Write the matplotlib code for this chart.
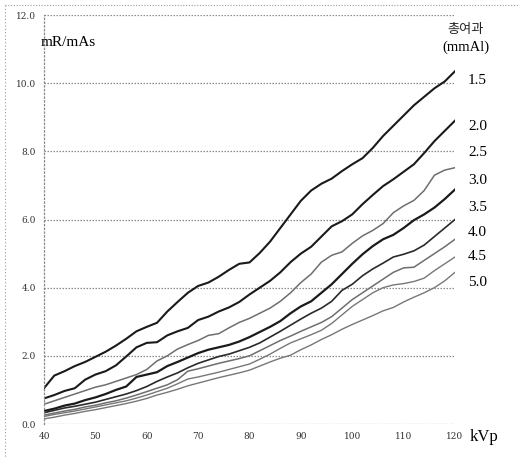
import matplotlib.pyplot as plt
from matplotlib.lines import Line2D

# kVp grid (every 2 kVp)
kvp = list(range(40, 121, 2))

# mR/mAs for each total filtration (mmAl)
al_15 = [1.05, 1.42, 1.55, 1.70, 1.82, 1.97, 2.12, 2.30, 2.50, 2.72, 2.85,
         2.97, 3.30, 3.58, 3.85, 4.05, 4.15, 4.32, 4.52, 4.70, 4.74, 5.02,
         5.35, 5.75, 6.15, 6.55, 6.85, 7.05, 7.20, 7.42, 7.62, 7.80, 8.10,
         8.45, 8.75, 9.05, 9.35, 9.60, 9.85, 10.05, 10.35]
al_20 = [0.75, 0.85, 0.97, 1.05, 1.30, 1.45, 1.55, 1.72, 1.98, 2.25, 2.38,
         2.40, 2.60, 2.72, 2.82, 3.05, 3.15, 3.30, 3.42, 3.58, 3.80, 4.00,
         4.20, 4.45, 4.75, 5.00, 5.20, 5.50, 5.80, 5.95, 6.15, 6.45, 6.72,
         6.98, 7.18, 7.40, 7.62, 7.95, 8.30, 8.60, 8.90]
al_25 = [0.58, 0.68, 0.78, 0.88, 0.98, 1.08, 1.15, 1.25, 1.35, 1.45, 1.60,
         1.85, 2.00, 2.20, 2.33, 2.45, 2.60, 2.65, 2.82, 2.98, 3.10, 3.25,
         3.40, 3.60, 3.85, 4.15, 4.40, 4.75, 4.95, 5.05, 5.30, 5.52, 5.68,
         5.88, 6.20, 6.40, 6.56, 6.85, 7.30, 7.45, 7.52]
al_30 = [0.38, 0.45, 0.54, 0.60, 0.70, 0.78, 0.88, 1.00, 1.10, 1.38, 1.45,
         1.52, 1.70, 1.82, 1.95, 2.08, 2.18, 2.25, 2.32, 2.42, 2.55, 2.70,
         2.85, 3.02, 3.25, 3.45, 3.60, 3.85, 4.10, 4.40, 4.70, 4.98, 5.22,
         5.42, 5.55, 5.75, 5.98, 6.15, 6.35, 6.60, 6.88]
al_35 = [0.33, 0.40, 0.47, 0.52, 0.58, 0.64, 0.72, 0.80, 0.88, 0.98, 1.10,
         1.25, 1.38, 1.50, 1.65, 1.78, 1.88, 1.98, 2.05, 2.15, 2.25, 2.38,
         2.55, 2.72, 2.90, 3.08, 3.25, 3.40, 3.60, 3.92, 4.10, 4.35, 4.55,
         4.72, 4.90, 4.98, 5.08, 5.25, 5.50, 5.75, 6.00]
al_40 = [0.26, 0.32, 0.38, 0.43, 0.50, 0.55, 0.62, 0.68, 0.76, 0.85, 0.95,
         1.05, 1.15, 1.30, 1.55, 1.62, 1.70, 1.78, 1.85, 1.92, 2.00, 2.15,
         2.30, 2.45, 2.58, 2.72, 2.85, 2.98, 3.15, 3.40, 3.65, 3.85, 4.05,
         4.25, 4.45, 4.58, 4.60, 4.80, 5.00, 5.20, 5.42]
al_45 = [0.22, 0.28, 0.33, 0.38, 0.44, 0.50, 0.56, 0.62, 0.68, 0.76, 0.85,
         0.95, 1.05, 1.18, 1.32, 1.38, 1.45, 1.52, 1.60, 1.68, 1.76, 1.90,
         2.05, 2.22, 2.38, 2.50, 2.62, 2.75, 2.95, 3.20, 3.45, 3.65, 3.85,
         4.00, 4.08, 4.12, 4.18, 4.28, 4.50, 4.70, 4.90]
al_50 = [0.15, 0.20, 0.26, 0.31, 0.37, 0.42, 0.48, 0.54, 0.60, 0.67, 0.75,
         0.85, 0.93, 1.02, 1.12, 1.20, 1.28, 1.36, 1.43, 1.50, 1.58, 1.70,
         1.82, 1.93, 2.02, 2.18, 2.32, 2.48, 2.62, 2.78, 2.92, 3.05, 3.18,
         3.32, 3.42, 3.58, 3.72, 3.85, 4.00, 4.20, 4.45]

series = [al_15, al_20, al_25, al_30, al_35, al_40, al_45, al_50]
filt_labels = ["1.5", "2.0", "2.5", "3.0", "3.5", "4.0", "4.5", "5.0"]
yticks = [0, 2, 4, 6, 8, 10, 12]
xticks = [40, 50, 60, 70, 80, 90, 100, 110, 120]

W, H = 518, 457


def fx(x):
    return x / W


def fy(y):
    return 1 - y / H


fig = plt.figure(figsize=(W / 100, H / 100), dpi=100)
ax = fig.add_axes([fx(44), fy(424), fx(455) - fx(44), fy(15) - fy(424)])

# dark curves and grey curves alternate like in the scan
styles = [("#1a1a1a", 1.5), ("#1a1a1a", 1.5), ("#6e6e6e", 1.1), ("#1a1a1a", 1.6),
          ("#2a2a2a", 1.2), ("#6e6e6e", 1.1), ("#777777", 1.0), ("#777777", 1.0)]
for vals, (c, lw) in zip(series, styles):
    ax.plot(kvp, vals, color=c, lw=lw, solid_joinstyle="round")

ax.set_xlim(40, 120)
ax.set_ylim(0, 12)
for v in yticks:
    ax.axhline(v, color="#8a8a8a", lw=0.9, ls=(0, (1.2, 1.2)), zorder=0)

for s in ["top", "right", "bottom"]:
    ax.spines[s].set_visible(False)
ax.spines["left"].set_linestyle((0, (1, 2)))
ax.spines["left"].set_color("#888888")
ax.spines["left"].set_linewidth(0.9)

ax.set_xticks(xticks)
ax.set_xticklabels([str(t) for t in xticks], fontsize=6.5, family="DejaVu Serif",
                   color="#333333")
ax.set_yticks(yticks)
ax.set_yticklabels([f"{t:.1f}" for t in yticks], fontsize=6.5,
                   family="DejaVu Serif", color="#333333")
ax.tick_params(length=0, pad=6)

serif = "Liberation Serif"
fig.text(fx(41), fy(42), "mR/mAs", fontsize=11, family=serif, va="center")
fig.text(fx(470), fy(437), "kVp", fontsize=12, family=serif, va="center")
fig.text(fx(466), fy(30), "총여과", fontsize=9.5, family="Noto Sans CJK KR",
         va="center", ha="center", color="#222222")
fig.text(fx(466), fy(47), "(mmAl)", fontsize=10.5, family=serif, va="center",
         ha="center")
label_y = [80, 127, 153, 180, 207, 233, 257, 282]
for lab, yy in zip(filt_labels, label_y):
    fig.text(fx(468), fy(yy), lab, fontsize=11, family=serif, va="center")

# dotted frame of the scanned page (left and top)
fig.add_artist(Line2D([fx(5), fx(5)], [fy(5), fy(457)], color="#999999",
                      lw=0.8, ls=(0, (1, 2))))
fig.add_artist(Line2D([fx(5), fx(518)], [fy(5), fy(5)], color="#999999",
                      lw=0.8, ls=(0, (1, 1.5))))

fig.savefig("out.png", dpi=100)
